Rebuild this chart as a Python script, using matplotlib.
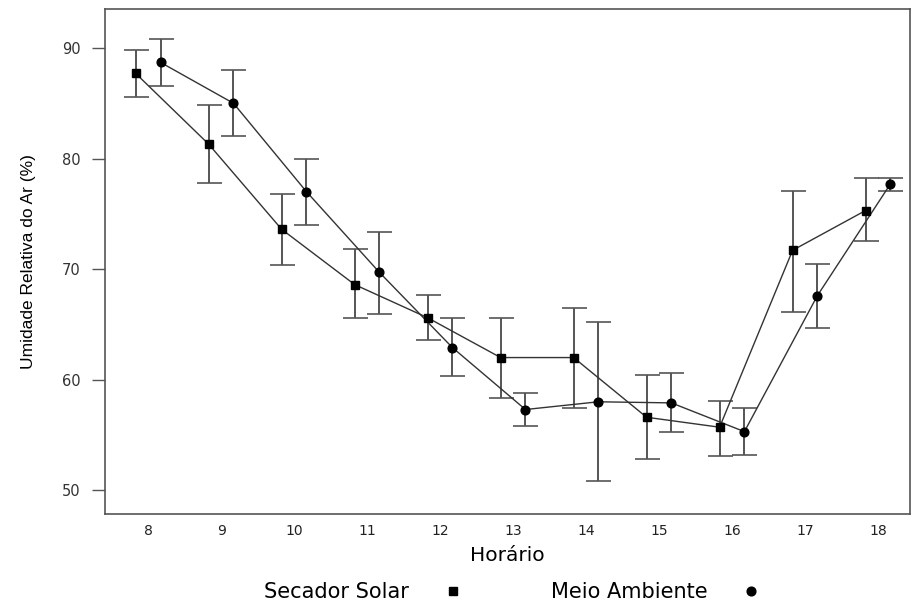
import matplotlib
matplotlib.use('Agg')
import matplotlib.pyplot as plt
import numpy as np

plt.rcParams['font.family'] = ['DejaVu Sans']

# Dados
horas = [8, 9, 10, 11, 12, 13, 14, 15, 16, 17, 18]
secador = [87.7, 81.3, 73.6, 68.6, 65.6, 62.0, 62.0, 56.6, 55.7, 71.7, 75.3]
secador_sup = [89.8, 84.8, 76.8, 71.8, 67.7, 65.6, 66.5, 60.4, 58.1, 77.1, 78.2]
secador_inf = [85.6, 77.8, 70.4, 65.6, 63.6, 58.3, 57.4, 52.8, 53.1, 66.1, 72.5]
ambiente = [88.7, 85.0, 77.0, 69.7, 62.9, 57.3, 58.0, 57.9, 55.3, 67.6, 77.7]
ambiente_sup = [90.8, 88.0, 80.0, 73.4, 65.6, 58.8, 65.2, 60.6, 57.4, 70.5, 78.2]
ambiente_inf = [86.6, 82.0, 74.0, 65.9, 60.3, 55.8, 50.8, 55.3, 53.2, 64.7, 77.1]

h = np.array(horas)
desl = 0.17

fig = plt.figure(figsize=(9.11, 6.04), dpi=100)
ax = fig.add_axes([0.1153, 0.149, 0.8837, 0.8356])

for xs, y, sup, inf, mk, ms, lab in [
    (h - desl, secador, secador_sup, secador_inf, 's', 5.8, 'Secador Solar'),
    (h + desl, ambiente, ambiente_sup, ambiente_inf, 'o', 6.3, 'Meio Ambiente'),
]:
    y = np.array(y)
    err = [y - np.array(inf), np.array(sup) - y]
    ax.errorbar(xs, y, yerr=err, fmt='none', ecolor='#555555', elinewidth=1.4,
                capsize=9, capthick=1.2, zorder=2)
    ax.plot(xs, y, color='#333333', lw=1.0, zorder=3)
    ax.plot(xs, y, linestyle='none', marker=mk, color='black', markersize=ms,
            zorder=4, label=lab)

ax.set_xlim(7.41, 18.44)
ax.set_ylim(47.85, 93.5)
ax.set_xticks(horas)
ax.set_yticks([50, 60, 70, 80, 90])
ax.tick_params(axis='x', length=0, pad=7, labelsize=10, labelcolor='#222222')
ax.tick_params(axis='y', length=9.5, width=1, color='#555555', labelsize=10.5,
               labelcolor='#333333', pad=8)
for s in ax.spines.values():
    s.set_color('#555555')
    s.set_linewidth(1.2)

ax.set_xlabel('Horário', fontsize=14.5, labelpad=6)
ax.set_ylabel('Umidade Relativa do Ar (%)', fontsize=12.5, labelpad=19,
              family='Liberation Sans')

fig.legend(loc='center', bbox_to_anchor=(0.563, 0.02), ncol=2,
           frameon=False, markerfirst=False, fontsize=15, handletextpad=1.6,
           columnspacing=4.2, handlelength=1.0)

fig.savefig('out.png', dpi=100)
